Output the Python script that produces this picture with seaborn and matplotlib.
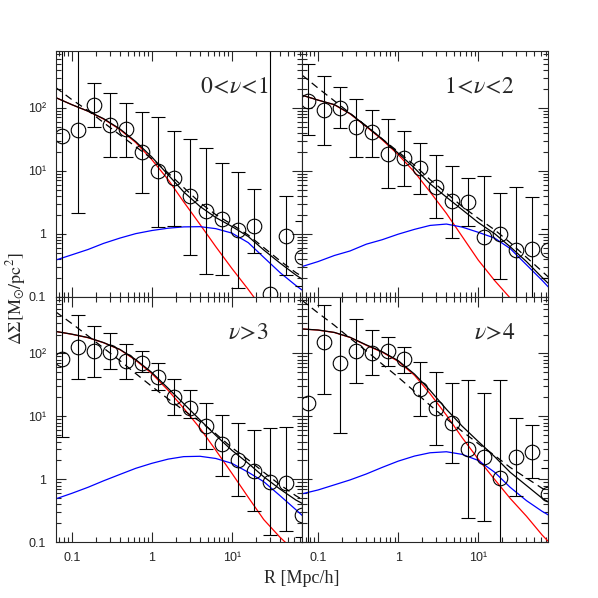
import numpy as np
import matplotlib
matplotlib.use('Agg')
import matplotlib.pyplot as plt
import matplotlib.ticker as mticker
import seaborn as sns

# radial bins of the measured profiles
R_BINS = [0.075, 0.119, 0.189, 0.299, 0.475, 0.75, 1.19, 1.89, 2.99, 4.75,
          7.5, 11.9, 18.9, 29.9, 47.5, 75.0]
# radii where the model curves are sampled
R_MODEL = [0.063, 0.1, 0.16, 0.25, 0.4, 0.63, 1.0, 1.6, 2.5, 4.0, 6.3, 10,
           16, 25, 40, 63, 80]

# 0 < nu < 1
TL_Y = [35, 45, 112, 54, 46, 20, 9.8, 7.6, 3.9, 2.3, 1.7, 1.15, 1.34, 0.11, 0.93, 0.42]
TL_LO = [0.01, 2.1, 49, 16.6, 16.6, 4.4, 1.29, 1.32, 0.46, 0.23, 0.22, 0.135, 0.49, 0.01, 0.22, 0.15]
TL_HI = [1e4, 1e4, 250, 174, 117, 87, 72, 42, 32, 23, 13, 9.4, 5.1, 1e4, 3.9, 1.6]
TL_1H = [145, 112, 88, 66, 45, 28, 15, 7.2, 3.2, 1.4, 0.62, 0.28, 0.13, 0.06, 0.03, 0.015, 0.01]
TL_2H = [0.38, 0.46, 0.56, 0.70, 0.85, 1.0, 1.12, 1.22, 1.28, 1.29, 1.2, 1.02, 0.72, 0.42, 0.24, 0.15, 0.12]
TL_TOT = [145, 112, 88, 67, 46, 29, 16.5, 8.6, 4.6, 2.7, 1.8, 1.3, 0.9, 0.55, 0.34, 0.22, 0.18]
TL_ALT = [210, 135, 90, 58, 37, 24, 15.5, 9.2, 5.4, 3.1, 2.0, 1.4, 0.95, 0.6, 0.37, 0.24, 0.2]

# 1 < nu < 2
TR_Y = [128, 91, 100, 49, 41, 18.7, 15.8, 11.2, 5.6, 3.33, 3.15, 0.88, 0.99, 0.54, 0.57, 0.54]
TR_LO = [37, 26, 48, 16.6, 16.6, 5.4, 5.8, 4.3, 1.74, 0.85, 1.34, 0.01, 0.19, 0.01, 0.01, 0.2]
TR_HI = [490, 324, 210, 138, 93, 66, 43, 28, 18, 12, 7.6, 8.1, 4.4, 5.6, 3.8, 1.2]
TR_1H = [158, 132, 111, 80, 50, 31, 18, 9.5, 4.6, 2.1, 0.9, 0.38, 0.18, 0.095, 0.045, 0.02, 0.015]
TR_2H = [0.30, 0.36, 0.45, 0.53, 0.68, 0.80, 0.98, 1.17, 1.35, 1.42, 1.27, 1.05, 0.85, 0.58, 0.32, 0.18, 0.13]
TR_TOT = [158, 132, 112, 81, 51, 32, 19, 11, 6.2, 3.8, 2.4, 1.5, 1.0, 0.62, 0.36, 0.2, 0.15]
TR_ALT = [330, 205, 128, 82, 51, 32, 20, 12.2, 7.2, 4.4, 2.7, 1.75, 1.15, 0.72, 0.42, 0.25, 0.19]

# nu > 3
BL_Y = [83, 129, 109, 107, 76, 71, 42, 20.4, 13.4, 7.1, 3.6, 2.0, 1.37, 0.92, 0.87, 0.27]
BL_LO = [4.8, 40, 43, 56, 40, 50, 26, 10.5, 9.4, 3.0, 1.13, 0.54, 0.32, 0.13, 0.15, 0.12]
BL_HI = [1e4, 410, 276, 210, 141, 110, 71, 40, 26, 16.6, 10.5, 7.8, 6.2, 6.5, 6.9, 0.8]
BL_1H = [224, 202, 178, 148, 115, 78, 48, 26, 13.5, 6.5, 2.9, 1.25, 0.52, 0.23, 0.12, 0.07, 0.05]
BL_2H = [0.49, 0.6, 0.75, 0.95, 1.2, 1.5, 1.8, 2.1, 2.3, 2.33, 2.15, 1.8, 1.3, 0.92, 0.55, 0.33, 0.25]
BL_TOT = [224, 203, 179, 149, 116, 80, 50, 28, 16, 8.8, 5.0, 2.9, 1.8, 1.1, 0.7, 0.47, 0.4]
BL_ALT = [460, 300, 190, 122, 77, 48, 30, 19, 12.5, 8.3, 5.3, 3.2, 2.05, 1.3, 0.82, 0.55, 0.46]

# nu > 4
BR_Y = [16.2, 150, 71, 110, 102, 110, 81, 27.6, 13.4, 7.8, 3.0, 2.3, 1.07, 2.3, 2.76, 0.59]
BR_LO = [0.01, 23, 5.4, 34, 46, 63, 49, 10.2, 3.5, 1.8, 0.24, 0.22, 0.01, 0.54, 1.05, 0.2]
BR_HI = [1e4, 590, 1e4, 347, 236, 186, 129, 72, 50, 34, 38, 23.5, 38, 9.6, 7.4, 1.5]
BR_1H = [245, 235, 215, 180, 135, 105, 75, 45, 23, 10.5, 4.6, 2.1, 1.0, 0.5, 0.26, 0.13, 0.095]
BR_2H = [0.59, 0.68, 0.82, 0.98, 1.22, 1.55, 1.95, 2.35, 2.65, 2.75, 2.5, 2.0, 1.3, 0.75, 0.46, 0.31, 0.26]
BR_TOT = [245, 236, 216, 181, 137, 107, 77, 47, 26, 13, 7, 4.0, 2.3, 1.3, 0.8, 0.5, 0.42]
BR_ALT = [700, 440, 280, 175, 110, 68, 42, 25, 15, 9.2, 5.8, 3.7, 2.4, 1.55, 1.05, 0.72, 0.6]

LABELS = [r'$0\!<\!\nu\!<\!1$', r'$1\!<\!\nu\!<\!2$', r'$\nu\!>\!3$', r'$\nu\!>\!4$']

TICK_TEXT = {0.1: '0.1', 1: '1', 10: '10¹', 100: '10²'}

sns.set_style('ticks')
plt.rcParams['font.family'] = ['Liberation Sans', 'DejaVu Sans']
plt.rcParams['mathtext.fontset'] = 'stix'

fig, axs = plt.subplots(2, 2, figsize=(5.98, 5.98), dpi=100, sharex=True, sharey=True)
fig.subplots_adjust(left=0.093, right=0.917, bottom=0.093, top=0.915, wspace=0, hspace=0)

panels = [
    (axs[0, 0], TL_Y, TL_LO, TL_HI, TL_1H, TL_2H, TL_TOT, TL_ALT, LABELS[0]),
    (axs[0, 1], TR_Y, TR_LO, TR_HI, TR_1H, TR_2H, TR_TOT, TR_ALT, LABELS[1]),
    (axs[1, 0], BL_Y, BL_LO, BL_HI, BL_1H, BL_2H, BL_TOT, BL_ALT, LABELS[2]),
    (axs[1, 1], BR_Y, BR_LO, BR_HI, BR_1H, BR_2H, BR_TOT, BR_ALT, LABELS[3]),
]

fmt = mticker.FuncFormatter(lambda v, pos: TICK_TEXT.get(round(v, 3), ''))

for ax, y, lo, hi, one_h, two_h, tot, alt, label in panels:
    ax.set_xscale('log')
    ax.set_yscale('log')

    sns.lineplot(x=R_MODEL, y=one_h, color='red', lw=0.9, ax=ax)
    sns.lineplot(x=R_MODEL, y=two_h, color='blue', lw=0.9, ax=ax)
    sns.lineplot(x=R_MODEL, y=tot, color='black', lw=0.9, ax=ax)
    sns.lineplot(x=R_MODEL, y=alt, color='black', lw=0.9, ax=ax, linestyle=(0, (6, 4)))

    y = np.array(y)
    yerr = [y - np.array(lo), np.array(hi) - y]
    ax.errorbar(R_BINS, y, yerr=yerr, fmt='o', ms=10.5, mfc='none', mec='black',
                mew=0.8, ecolor='black', elinewidth=0.8, capsize=5, capthick=0.8,
                clip_on=True)

    ax.text(0.865, 0.85, label, transform=ax.transAxes, ha='right', va='center',
            fontsize=17)

    ax.set_xlim(0.063, 75)
    ax.set_ylim(0.1, 800)
    ax.xaxis.set_major_locator(mticker.FixedLocator([0.1, 1, 10]))
    ax.yaxis.set_major_locator(mticker.FixedLocator([0.1, 1, 10, 100]))
    ax.xaxis.set_minor_locator(mticker.LogLocator(base=10, subs=np.arange(2, 10), numticks=20))
    ax.yaxis.set_minor_locator(mticker.LogLocator(base=10, subs=np.arange(2, 10), numticks=20))
    ax.xaxis.set_major_formatter(fmt)
    ax.yaxis.set_major_formatter(fmt)
    ax.xaxis.set_minor_formatter(mticker.NullFormatter())
    ax.yaxis.set_minor_formatter(mticker.NullFormatter())
    ax.tick_params(which='both', direction='in', top=True, right=True, width=0.8,
                   labelsize=9)
    ax.tick_params(which='major', length=7, pad=7)
    ax.tick_params(which='minor', length=3.5)
    for s in ax.spines.values():
        s.set_linewidth(0.8)
    ax.set_xlabel('')
    ax.set_ylabel('')

for ax in axs[0, :]:
    ax.tick_params(labelbottom=False)
for ax in axs[:, 1]:
    ax.tick_params(labelleft=False)

fig.text(0.505, 0.033, 'R [Mpc/h]', ha='center', va='center', fontsize=13,
         family='Liberation Serif')
fig.text(0.026, 0.5, r'$\Delta\Sigma[\mathrm{M}_{\odot}/\mathrm{pc}^2]$', ha='center',
         va='center', rotation=90, fontsize=13)

fig.savefig('out.png', dpi=100)
